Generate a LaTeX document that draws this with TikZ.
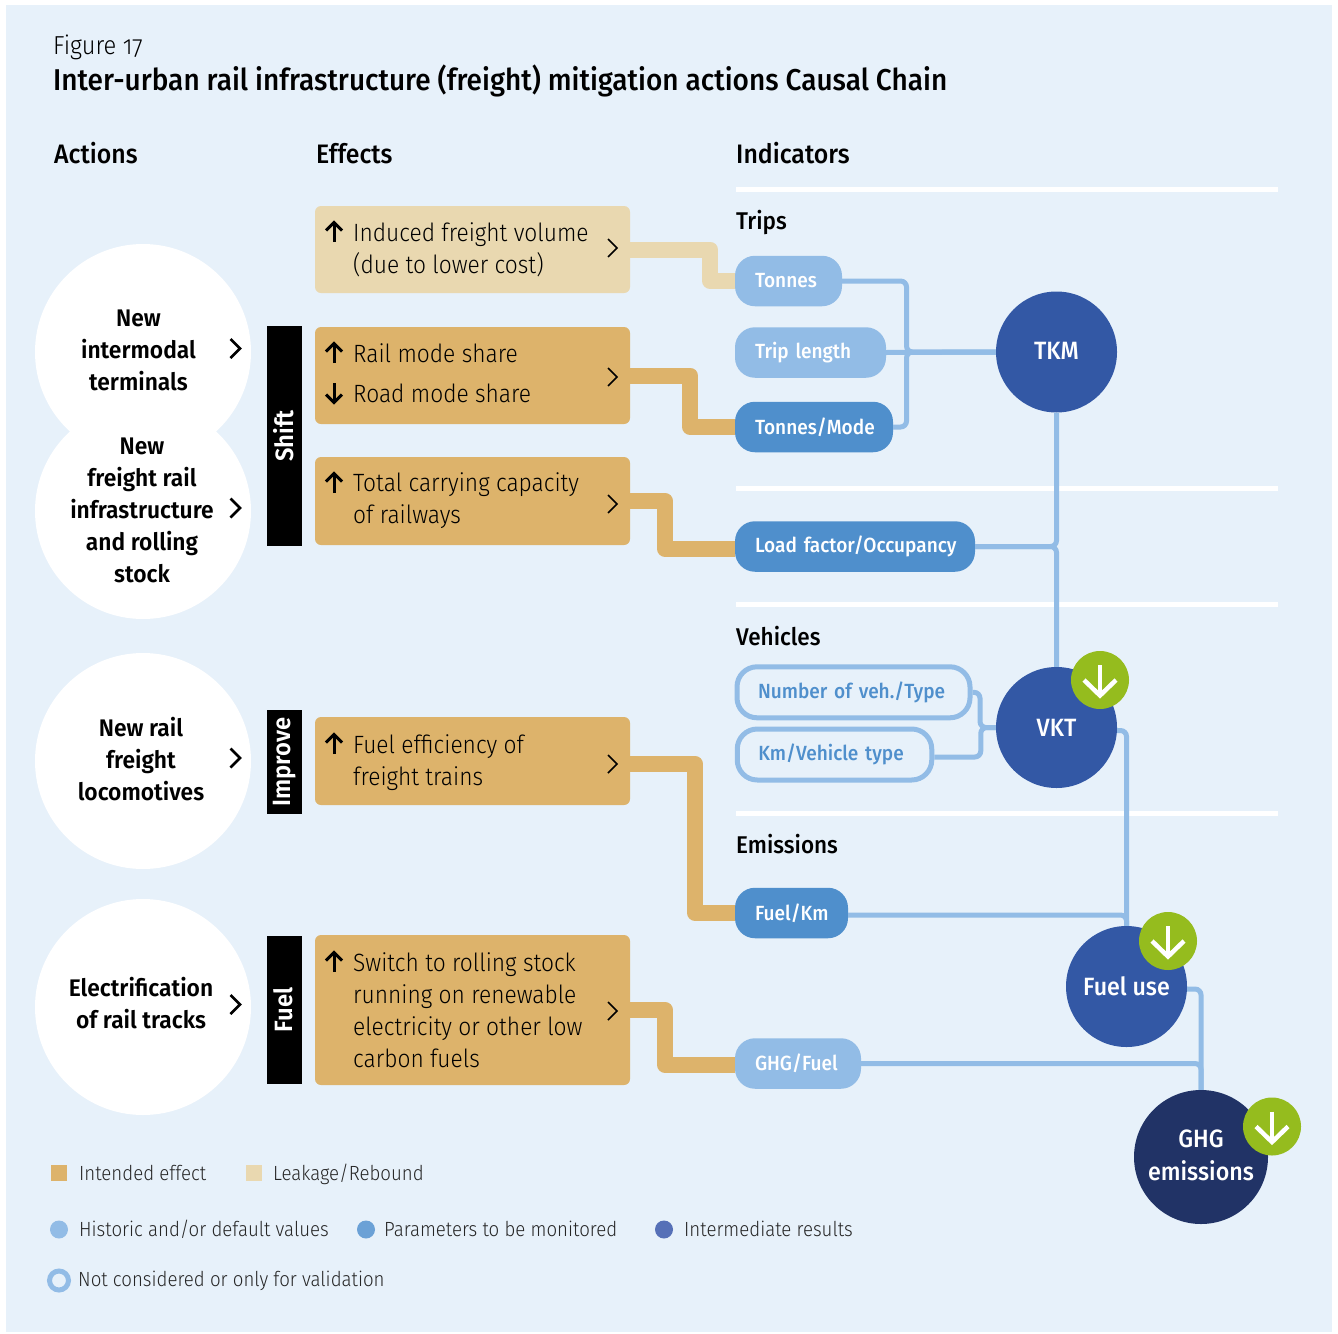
\documentclass[tikz,border=0pt]{standalone}
\usepackage{fontspec}
\setmainfont{Fira Sans}
\newfontfamily\lightfont{Fira Sans Light}[FakeStretch=0.91]
\newfontfamily\figurefont{Fira Sans Light}[FakeStretch=0.91, Numbers=OldStyle]
\newfontfamily\medfont{Fira Sans Medium}[FakeStretch=0.93]
\newfontfamily\boldfont{Fira Sans SemiBold}[FakeStretch=0.95]

\definecolor{bgblue}{HTML}{E7F1FA}
\definecolor{intended}{HTML}{DDB36B}
\definecolor{rebound}{HTML}{E9D8B0}
\definecolor{historic}{HTML}{92BCE6}
\definecolor{monitored}{HTML}{4F8FCC}
\definecolor{legendmon}{HTML}{6BA1D6}
\definecolor{intermediate}{HTML}{3358A5}
\definecolor{legendint}{HTML}{5670B7}
\definecolor{ghgnavy}{HTML}{213366}
\definecolor{downgreen}{HTML}{95BC1E}

\newcommand{\leverlabel}[1]{\rotatebox{90}{\raisebox{2pt}{#1}}}

\tikzset{
    actioncircle/.style={circle, fill=white, minimum size=216pt, inner sep=0pt},
    actiontext/.style={align=center, font=\boldfont\fontsize{24}{32}\selectfont},
    leverbar/.style={fill=black, minimum width=35pt, inner sep=0pt, text=white, font=\boldfont\fontsize{25}{30}\selectfont},
    effectbox/.style={rectangle, rounded corners=6pt, minimum width=315pt, inner sep=0pt},
    effecttext/.style={anchor=west, align=left, inner sep=0pt, font=\lightfont\fontsize{25}{32}\selectfont},
    pill/.style={rectangle, rounded corners=20pt, minimum height=50.5pt, inner xsep=20pt, inner ysep=0pt, outer sep=0pt, align=left, text=white, font=\medfont\fontsize{20.5}{24}\selectfont},
    openpill/.style={pill, draw=historic, line width=5pt, fill=bgblue, minimum height=51pt, inner xsep=21pt, text=monitored, outer sep=.5\pgflinewidth},
    resultcircle/.style={circle, fill=intermediate, minimum size=121pt, inner sep=0pt, align=center, text=white, font=\medfont\fontsize{25}{33}\selectfont},
    greencircle/.style={circle, fill=downgreen, minimum size=58pt, inner sep=0pt},
    goldline/.style={line width=16pt, line join=round, intended},
    paleline/.style={line width=16pt, line join=round, rebound},
    blueline/.style={line width=5pt, rounded corners=6pt, historic},
    whiterule/.style={line width=5pt, white},
    chevronbig/.style={line width=2.6pt, black},
    chevronthin/.style={line width=1.5pt, black},
    markline/.style={line width=3pt, black},
    heading/.style={anchor=base west, inner sep=0pt, font=\medfont\fontsize{26.7}{32}\selectfont},
    subheading/.style={anchor=base west, inner sep=0pt, font=\medfont\fontsize{24.2}{30}\selectfont},
    legendtext/.style={anchor=west, inner sep=0pt, text=black!85, font=\lightfont\fontsize{20.5}{26}\selectfont},
}

\begin{document}
\begin{tikzpicture}[x=1pt, y=-1pt]
    \useasboundingbox (0,0) rectangle (1338,1333);
    \fill[bgblue] (6,5) rectangle (1332,1332);

    % Titles
    \node[anchor=base west, inner sep=0pt, font=\figurefont\fontsize{26}{30}\selectfont] (figno) at (53,54) {Figure 17};
    \node[anchor=base west, inner sep=0pt, font=\medfont\fontsize{30.1}{36}\selectfont] (title) at (53,90) {Inter-urban rail infrastructure (freight) mitigation actions Causal Chain};
    \node[heading] (actions) at (54,163) {Actions};
    \node[heading] (effects) at (316,163) {Effects};
    \node[heading] (indicators) at (736,163) {Indicators};

    % Rules of the indicator column
    \foreach \ruley in {189.5, 488.5, 604.5, 813.5} {
        \draw[whiterule] (736,\ruley) -- (1278,\ruley);
    }
    \node[subheading] (trips) at (736,229) {Trips};
    \node[subheading] (vehicles) at (736,645) {Vehicles};
    \node[subheading] (emissions) at (736,853) {Emissions};

    % Actions
    \node[actioncircle] (circleone) at (143,352) {};
    \node[actioncircle] (circletwo) at (143,511) {};
    \node[actioncircle] (circlethree) at (143,761) {};
    \node[actioncircle] (circlefour) at (143,1007) {};
    \node[actiontext] (terminals) at (138.5,350) {New\\intermodal\\terminals};
    \node[actiontext] (stock) at (142,510) {New\\freight rail\\infrastructure\\and rolling\\stock};
    \node[actiontext] (locomotives) at (141,759) {New rail\\freight\\locomotives};
    \node[actiontext] (electrification) at (141,1003) {Electrification\\of rail tracks};
    \foreach \chevy in {348.5, 508, 758, 1004.5} {
        \draw[chevronbig] (230.5,\chevy-9.5) -- ++(9.5,9.5) -- ++(-9.5,9.5);
    }

    % Levers
    \node[leverbar, minimum height=220pt] (shift) at (284.5,436) {\leverlabel{Shift}};
    \node[leverbar, minimum height=104pt] (improve) at (284.5,762) {\leverlabel{Improve}};
    \node[leverbar, minimum height=148pt] (fuel) at (284.5,1010) {\leverlabel{Fuel}};

    % Effects
    \node[effectbox, fill=rebound, minimum height=87pt] (induced) at (472.5,249.5) {};
    \node[effectbox, fill=intended, minimum height=97pt] (railshare) at (472.5,375.5) {};
    \node[effectbox, fill=intended, minimum height=88pt] (capacity) at (472.5,501) {};
    \node[effectbox, fill=intended, minimum height=88pt] (efficiency) at (472.5,761) {};
    \node[effectbox, fill=intended, minimum height=150pt] (renewable) at (472.5,1010) {};
    \node[effecttext] (inducedtext) at (353,250) {Induced freight volume\\(due to lower cost)};
    \node[effecttext] (railtext) at (353,353) {Rail mode share};
    \node[effecttext] (roadtext) at (353,393) {Road mode share};
    \node[effecttext] (capacitytext) at (353,501) {Total carrying capacity\\of railways};
    \node[effecttext] (efficiencytext) at (353,762.5) {Fuel efficiency of\\freight trains};
    \node[effecttext] (renewabletext) at (353,1010) {Switch to rolling stock\\running on renewable\\electricity or other low\\carbon fuels};
    \foreach \chevy in {248, 377, 504, 764, 1011} {
        \draw[chevronthin] (608,\chevy-9) -- ++(9,9) -- ++(-9,9);
    }
    % Up and down marks
    \foreach \marky in {232, 353, 483, 744, 962} {
        \draw[markline] (334,\marky+10) -- (334,\marky-9);
        \draw[markline] (326,\marky-1.5) -- (334,\marky-9.5) -- (342,\marky-1.5);
    }
    \draw[markline] (334,383) -- (334,402);
    \draw[markline] (326,394.5) -- (334,402.5) -- (342,394.5);

    % Indicators
    \node[pill, fill=historic, text width=67pt] (tonnes) at (788.5,281) {Tonnes};
    \node[pill, fill=historic, text width=111pt] (triplength) at (810.5,352.5) {Trip length};
    \node[pill, fill=monitored, text width=118pt] (tonnesmode) at (814,427) {Tonnes/Mode};
    \node[pill, fill=monitored, text width=200pt] (loadfactor) at (855,546.5) {\mbox{Load factor/Occupancy}};
    \node[openpill, text width=191pt] (numberveh) at (853.5,692.3) {\raisebox{-1pt}{Number of veh./Type}};
    \node[openpill, text width=152.5pt] (kmvehicle) at (834.5,754.5) {\raisebox{-1pt}{Km/Vehicle type}};
    \node[pill, fill=monitored, text width=73pt] (fuelkm) at (791.5,913) {Fuel/Km};
    \node[pill, fill=historic, text width=86pt] (ghgfuel) at (798,1063.5) {GHG/Fuel};

    % Results
    \node[resultcircle] (tkm) at (1056.5,352) {\raisebox{2pt}{TKM}};
    \node[resultcircle] (vkt) at (1056.5,727.5) {VKT};
    \node[resultcircle] (fueluse) at (1126.5,986.5) {\raisebox{1pt}{Fuel use}};
    \node[resultcircle, fill=ghgnavy, minimum size=134pt] (ghg) at (1201,1157) {\raisebox{3pt}{GHG}\\\raisebox{3pt}{emissions}};

    % Effects to indicators
    \draw[paleline] (induced.east) -- ++(80,0) |- (tonnes.west);
    \draw[goldline] (railshare.east) -- ++(60,0) |- (tonnesmode.west);
    \draw[goldline] (capacity.east) -- ++(35,0) |- ([yshift=-2.5pt]loadfactor.west);
    \draw[goldline] ([yshift=-3pt]efficiency.east) -- ++(65,0) |- (fuelkm.west);
    \draw[goldline] (renewable.east) -- ++(35,0) |- ([yshift=-1.5pt]ghgfuel.west);

    % Indicators to results
    \draw[blueline] (tonnes.east) -- ++(64.5,0) |- (tkm.west);
    \draw[blueline] (triplength.east) -- (tkm.west);
    \draw[blueline] (tonnesmode.east) -- ++(13.5,0) |- (tkm.west);
    \draw[blueline] (loadfactor.east) -| (tkm.south);
    \draw[blueline] (loadfactor.east) -| (vkt.north);
    \draw[blueline] (numberveh.east) -- ++(7.5,0) |- (vkt.west);
    \draw[blueline] ([yshift=-2.5pt]kmvehicle.east) -- ++(46.5,0) |- (vkt.west);
    \draw[blueline] ([yshift=-3pt]vkt.east) -| (fueluse.north);
    \draw[blueline] ([yshift=-2pt]fuelkm.east) -| (fueluse.north);
    \draw[blueline] ([yshift=-2.5pt]fueluse.east) -| (ghg.north);
    \draw[blueline] (ghgfuel.east) -| (ghg.north);

    % Green down marks
    \foreach \greenname/\greenx/\greeny in {greenvkt/1100/680, greenfuel/1168/941, greenghg/1272/1126.5} {
        \node[greencircle] (\greenname) at (\greenx,\greeny) {};
        \draw[line width=4.5pt, white] (\greenname.center) ++(0,-15) -- ++(0,30);
        \draw[line width=4.5pt, white] (\greenname.center) ++(-16,0) -- ++(16,15.5) -- ++(16,-15.5);
    }

    % Legend
    \fill[intended] (51,1165) rectangle (67,1181);
    \fill[rebound] (246,1165) rectangle (262,1181);
    \node[legendtext] (legendintended) at (79,1173) {Intended effect};
    \node[legendtext] (legendrebound) at (273,1174) {Leakage/Rebound};
    \fill[historic] (59,1229.5) circle (9);
    \fill[legendmon] (366,1229.5) circle (9);
    \fill[legendint] (664,1229.5) circle (9);
    \node[legendtext] (legendhistoric) at (79,1229) {Historic and/or default values};
    \node[legendtext] (legendmonitored) at (384,1229) {Parameters to be monitored};
    \node[legendtext] (legendresults) at (684,1229) {Intermediate results};
    \draw[historic, line width=5pt] (59,1280.5) circle (9.5);
    \node[legendtext] (legendopen) at (78,1280.5) {Not considered or only for validation};
\end{tikzpicture}
\end{document}
